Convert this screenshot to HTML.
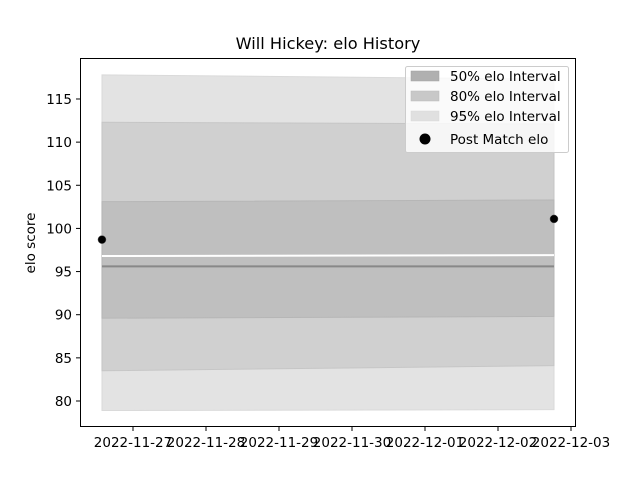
<!DOCTYPE html>
<html><head><meta charset="utf-8"><style>body{margin:0;background:#fff}svg{font-family:"DejaVu Sans","Liberation Sans",sans-serif}</style></head>
<body>
<svg id="chart" width="640" height="480">
<rect width="640" height="480" fill="#fff"/>
<text x="328" y="49" font-size="16.2" text-anchor="middle">Will Hickey: elo History</text>
<g id="plot"></g>
<rect x="80.5" y="58.5" width="495" height="368" fill="none" stroke="#000" stroke-width="1"/>
<text transform="translate(35,243) rotate(-90)" font-size="13.5" text-anchor="middle">elo score</text>
<g>
<rect x="405.5" y="66.5" width="163" height="86" rx="2" fill="#fff" fill-opacity="0.8" stroke="#ccc"/>
<rect x="411" y="71" width="28" height="10" fill="#b0b0b0" stroke="#a0a0a0" stroke-width="0.5"/>
<text x="450" y="81" font-size="13.5">50% elo Interval</text>
<rect x="411" y="91" width="28" height="10" fill="#c8c8c8" stroke="#bbb" stroke-width="0.5"/>
<text x="450" y="101" font-size="13.5">80% elo Interval</text>
<rect x="411" y="111" width="28" height="10" fill="#e0e0e0" stroke="#d8d8d8" stroke-width="0.5"/>
<text x="450" y="121" font-size="13.5">95% elo Interval</text>
<circle cx="425" cy="139" r="5.5" fill="#000"/>
<text x="450" y="144" font-size="13.5">Post Match elo</text>
</g>
</svg>
<script>
// x in days relative to 2022-11-27
const bandTimes=[-0.425,5.767];
const upper95=[117.8,117.3];
const lower95=[78.9,79.0];
const upper80=[112.3,112.1];
const lower80=[83.5,84.1];
const upper50=[103.1,103.3];
const lower50=[89.6,89.8];
const gapLevel=[96.8,96.9];
const meanLevel=[95.6,95.6];
const pointTimes=[-0.425,5.767];
const pointValues=[98.7,101.1];
const xTickValues=[0,1,2,3,4,5,6];
const xTickLabels=["2022-11-27","2022-11-28","2022-11-29","2022-11-30","2022-12-01","2022-12-02","2022-12-03"];
const yTickValues=[80,85,90,95,100,105,110,115];

const NS="http://www.w3.org/2000/svg";
const X=t=>133+t*73;
const Y=v=>401-(v-80)*8.629;
const g=document.getElementById('plot');
function mk(tag,attrs){const e=document.createElementNS(NS,tag);for(const k in attrs)e.setAttribute(k,attrs[k]);g.appendChild(e);return e;}
function band(up,lo,fill,stroke,name){
  const pts=bandTimes.map((t,i)=>X(t)+","+Y(up[i])).concat(bandTimes.map((t,i)=>X(t)+","+Y(lo[i])).reverse());
  const p=mk('polygon',{points:pts.join(' '),fill:fill,stroke:stroke,'stroke-width':1});
  
  
}
band(upper95,lower95,'#e3e3e3','#dadada','band-95');
band(upper80,lower80,'#d0d0d0','#c6c6c6','band-80');
band(upper50,lower50,'#bfbfbf','#b6b6b6','band-50');
function hline(vals,color,w,name){
  const l=mk('line',{x1:X(bandTimes[0]),x2:X(bandTimes[1]),y1:Y(vals[0]),y2:Y(vals[1]),stroke:color,'stroke-width':w});
  
  
}
hline(gapLevel,'#fff',2,'band-gap-line');
hline(meanLevel,'#888',2,'mean-elo-line');
pointTimes.forEach((t,i)=>{
  const c=mk('circle',{cx:X(t),cy:Y(pointValues[i]),r:4,fill:'#000',stroke:'#555','stroke-width':0.5});
  
  
});
xTickValues.forEach((t,i)=>{
  const x=X(t);
  const l=mk('line',{x1:x,x2:x,y1:427,y2:431,stroke:'#000'});
  
  
  const tx=mk('text',{x:x,y:447,'font-size':13.5,'text-anchor':'middle'});
  tx.textContent=xTickLabels[i];
  
  
});
yTickValues.forEach(v=>{
  const y=Y(v);
  const l=mk('line',{x1:76,x2:80,y1:y,y2:y,stroke:'#000'});
  
  
  const tx=mk('text',{x:72,y:y+5,'font-size':13.5,'text-anchor':'end'});
  tx.textContent=v;
  
  
});
</script>
</body></html>
